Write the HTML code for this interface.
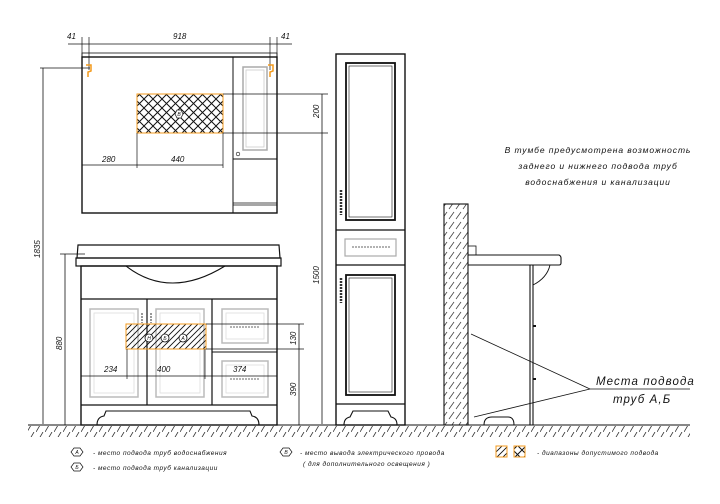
<!DOCTYPE html>
<html><head><meta charset="utf-8"><style>
html,body{margin:0;padding:0;background:#fff;width:720px;height:504px;overflow:hidden}
svg{display:block}
text{font-family:"Liberation Sans","DejaVu Sans",sans-serif;font-style:italic;fill:#111}
</style></head><body>
<svg width="720" height="504" viewBox="0 0 720 504" xmlns="http://www.w3.org/2000/svg">
<defs>
<pattern id="cross" width="9" height="9" patternUnits="userSpaceOnUse">
<path d="M0,0L9,9M9,0L0,9" stroke="#111" stroke-width="1"/>
</pattern>
<pattern id="diag" width="6" height="6" patternUnits="userSpaceOnUse">
<path d="M0,6L6,0M-1,1L1,-1M5,7L7,5" stroke="#111" stroke-width="0.9"/>
</pattern>
<pattern id="wall" width="7" height="10" patternUnits="userSpaceOnUse">
<path d="M1,9L6,2" stroke="#444" stroke-width="0.8"/>
</pattern>
<pattern id="floor" width="9" height="12" patternUnits="userSpaceOnUse">
<path d="M0,12L7,0" stroke="#333" stroke-width="0.8"/>
</pattern>
</defs>
<g fill="none" stroke="#111" stroke-width="1">
<line x1="68" y1="44" x2="292" y2="44" stroke-width="0.8"/>
<line x1="82" y1="37" x2="82" y2="70" stroke-width="0.7"/>
<line x1="89" y1="37" x2="89" y2="70" stroke-width="0.7"/>
<line x1="270" y1="37" x2="270" y2="70" stroke-width="0.7"/>
<line x1="277" y1="37" x2="277" y2="70" stroke-width="0.7"/>
<rect x="82" y="53" width="195" height="4" stroke-width="0.8"/>
<rect x="82" y="57" width="195" height="156" stroke-width="1.4"/>
<line x1="233" y1="57" x2="233" y2="213"/>
<line x1="233" y1="159" x2="277" y2="159"/>
<line x1="233" y1="203" x2="277" y2="203" stroke-width="0.7"/>
<line x1="233" y1="205" x2="277" y2="205" stroke-width="0.7"/>
<rect x="243" y="67" width="24" height="83" stroke="#aaa" stroke-width="1.5"/>
<rect x="246" y="70" width="18" height="77" stroke="#ccc" stroke-width="0.8"/>
<circle cx="238" cy="154" r="1.8" stroke-width="0.6"/>
<rect x="137" y="94" width="86" height="39" fill="url(#cross)" stroke="#f39a1c" stroke-width="1"/>
<polygon points="177,110 181,110 183,114 181,118 177,118 175,114" fill="#fff" stroke-width="0.7"/>
<line x1="223" y1="94" x2="328" y2="94" stroke-width="0.7"/>
<line x1="223" y1="133" x2="328" y2="133" stroke-width="0.7"/>
<line x1="322" y1="94" x2="322" y2="424" stroke-width="0.8"/>
<line x1="82" y1="165" x2="223" y2="165" stroke-width="0.7"/>
<line x1="137" y1="133" x2="137" y2="168" stroke-width="0.7"/>
<line x1="223" y1="133" x2="223" y2="168" stroke-width="0.7"/>
<line x1="40" y1="68" x2="90" y2="68" stroke-width="0.7"/>
<line x1="43" y1="68" x2="43" y2="424" stroke-width="0.8"/>
<path d="M78,245 L279,245 L280,258 L77,258 Z" stroke-width="1.2"/>
<rect x="76" y="258" width="205" height="8" stroke-width="1.2"/>
<rect x="81" y="266" width="196" height="159" stroke-width="1.4"/>
<path d="M126,266 Q170,300 225,266" stroke-width="1.1"/>
<line x1="81" y1="299" x2="277" y2="299" stroke-width="1.2"/>
<line x1="147" y1="299" x2="147" y2="405" stroke-width="1.2"/>
<line x1="212" y1="299" x2="212" y2="405" stroke-width="1.2"/>
<line x1="81" y1="405" x2="277" y2="405" stroke-width="1.2"/>
<path d="M97,425 Q97,417 104,416 L106,411 L250,411 L252,416 Q259,417 259,425" stroke-width="1.1"/>
<line x1="212" y1="352" x2="277" y2="352"/>
<g stroke="#bbb" stroke-width="1.5">
<rect x="90" y="309" width="48" height="88"/><rect x="156" y="309" width="48" height="88"/>
<rect x="222" y="309" width="46" height="34"/><rect x="222" y="361" width="46" height="36"/>
</g>
<g stroke="#ddd" stroke-width="0.8">
<rect x="94" y="313" width="40" height="80"/><rect x="160" y="313" width="40" height="80"/>
<rect x="226" y="313" width="38" height="26"/><rect x="226" y="365" width="38" height="28"/>
</g>
<line x1="230" y1="327" x2="260" y2="327" stroke="#999" stroke-width="1.5" stroke-dasharray="2,1"/>
<line x1="230" y1="379" x2="260" y2="379" stroke="#999" stroke-width="1.5" stroke-dasharray="2,1"/>
<line x1="142" y1="313" x2="142" y2="323" stroke="#999" stroke-width="2" stroke-dasharray="2,1"/>
<line x1="151" y1="313" x2="151" y2="323" stroke="#999" stroke-width="2" stroke-dasharray="2,1"/>
<rect x="126" y="324" width="80" height="25" fill="url(#diag)" stroke="#f39a1c" stroke-width="1"/>
<g fill="#fff" stroke-width="0.8">
<circle cx="149" cy="338" r="4"/><circle cx="165" cy="338" r="4"/><circle cx="183" cy="338" r="4"/>
</g>
<line x1="206" y1="324" x2="304" y2="324" stroke-width="0.7"/>
<line x1="206" y1="349" x2="304" y2="349" stroke-width="0.7"/>
<line x1="299" y1="324" x2="299" y2="425" stroke-width="0.8"/>
<line x1="81" y1="376" x2="277" y2="376" stroke-width="0.8"/>
<line x1="127" y1="349" x2="127" y2="379" stroke-width="0.7"/>
<line x1="205" y1="349" x2="205" y2="379" stroke-width="0.7"/>
<line x1="60" y1="254" x2="85" y2="254" stroke-width="0.7"/>
<line x1="65" y1="254" x2="65" y2="425" stroke-width="0.8"/>
<rect x="336" y="54" width="69" height="371" stroke-width="1.4"/>
<line x1="336" y1="230" x2="405" y2="230" stroke-width="1.2"/>
<line x1="336" y1="265" x2="405" y2="265" stroke-width="1.2"/>
<line x1="336" y1="404" x2="405" y2="404" stroke-width="1.2"/>
<rect x="346" y="63" width="49" height="157" stroke-width="1.8"/>
<rect x="349" y="66" width="43" height="151" stroke-width="0.6"/>
<rect x="346" y="275" width="49" height="120" stroke-width="1.8"/>
<rect x="349" y="278" width="43" height="114" stroke-width="0.6"/>
<rect x="345" y="239" width="51" height="17" stroke="#aaa" stroke-width="1.2"/>
<line x1="352" y1="247" x2="390" y2="247" stroke="#999" stroke-width="1.5" stroke-dasharray="2,1"/>
<line x1="341" y1="190" x2="341" y2="215" stroke="#333" stroke-width="2.5" stroke-dasharray="2,1"/>
<line x1="341" y1="278" x2="341" y2="303" stroke="#333" stroke-width="2.5" stroke-dasharray="2,1"/>
<path d="M344,425 Q344,418 350,417 L353,411 L388,411 L391,417 Q397,418 397,425" stroke-width="1.1"/>
<rect x="444" y="204" width="24" height="221" fill="url(#wall)" stroke-width="1.1"/>
<rect x="468" y="246" width="8" height="9" stroke-width="0.8"/>
<path d="M468,255 L559,255 Q561,256 561,258 L561,263 Q561,265 559,265 L468,265" stroke-width="1.1"/>
<line x1="530" y1="265" x2="530" y2="425" stroke-width="1.1"/>
<line x1="533" y1="265" x2="533" y2="425" stroke-width="1.1"/>
<path d="M550,265 Q547,278 533,285" stroke-width="0.9"/>
<line x1="533" y1="326" x2="536" y2="326" stroke-width="2"/>
<line x1="533" y1="379" x2="536" y2="379" stroke-width="2"/>
<path d="M484,425 Q484,417 492,417 L508,417 Q514,417 514,425" stroke-width="1"/>
<line x1="590" y1="389" x2="471" y2="334" stroke-width="0.8"/>
<line x1="590" y1="389" x2="474" y2="417" stroke-width="0.8"/>
<line x1="590" y1="389" x2="690" y2="389" stroke-width="0.8"/>
<line x1="28" y1="425" x2="690" y2="425" stroke-width="1.1"/>
<rect x="28" y="426" width="662" height="11" fill="url(#floor)" stroke="none"/>
<g stroke-width="0.7" fill="#fff">
<polygon points="74,448 80,448 83,452 80,456 74,456 71,452"/>
<polygon points="74,463 80,463 83,467 80,471 74,471 71,467"/>
<polygon points="283,448 289,448 292,452 289,456 283,456 280,452"/>
</g>
<rect x="496" y="446" width="11" height="11" fill="url(#diag)" stroke="#f39a1c"/>
<rect x="514" y="446" width="11" height="11" fill="url(#cross)" stroke="#f39a1c"/>
</g>
<g fill="none" stroke="#f39a1c" stroke-width="1.5">
<path d="M86,65 L91,65 L91,71 L88,72 L88,77"/>
<path d="M268,65 L273,65 L273,71 L270,72 L270,77"/>
</g>
<g font-size="8">
<text x="67" y="39">41</text><text x="173" y="39">918</text><text x="281" y="39">41</text>
<text x="102" y="162">280</text><text x="171" y="162">440</text>
<text x="104" y="372">234</text><text x="157" y="372">400</text><text x="233" y="372">374</text>
<text transform="translate(319,118) rotate(-90)">200</text>
<text transform="translate(319,284) rotate(-90)">1500</text>
<text transform="translate(40,258) rotate(-90)">1835</text>
<text transform="translate(62,350) rotate(-90)">880</text>
<text transform="translate(296,345) rotate(-90)">130</text>
<text transform="translate(296,396) rotate(-90)">390</text>
</g>
<g font-size="5" text-anchor="middle"><text x="179" y="116">В</text><text x="149" y="340">Н</text><text x="165" y="340">Б</text><text x="183" y="340">А</text>
<text x="77" y="454">А</text><text x="77" y="469">Б</text><text x="286" y="454">В</text></g>
<g font-size="8.5" text-anchor="middle" letter-spacing="0.9">
<text x="598" y="153">В тумбе предусмотрена возможность</text>
<text x="598" y="169">заднего и нижнего подвода труб</text>
<text x="598" y="185">водоснабжения и канализации</text>
</g>
<g font-size="11.5" letter-spacing="1.1">
<text x="596" y="385">Места подвода</text>
<text x="613" y="403">труб А,Б</text>
</g>
<g font-size="6.5" letter-spacing="0.5">
<text x="93" y="455">- место подвода труб водоснабжения</text>
<text x="93" y="470">- место подвода труб канализации</text>
<text x="300" y="455">- место вывода электрического провода</text>
<text x="303" y="466">( для дополнительного освещения )</text>
<text x="537" y="455">- диапазоны допустимого подвода</text>
</g>
</svg>
</body></html>
